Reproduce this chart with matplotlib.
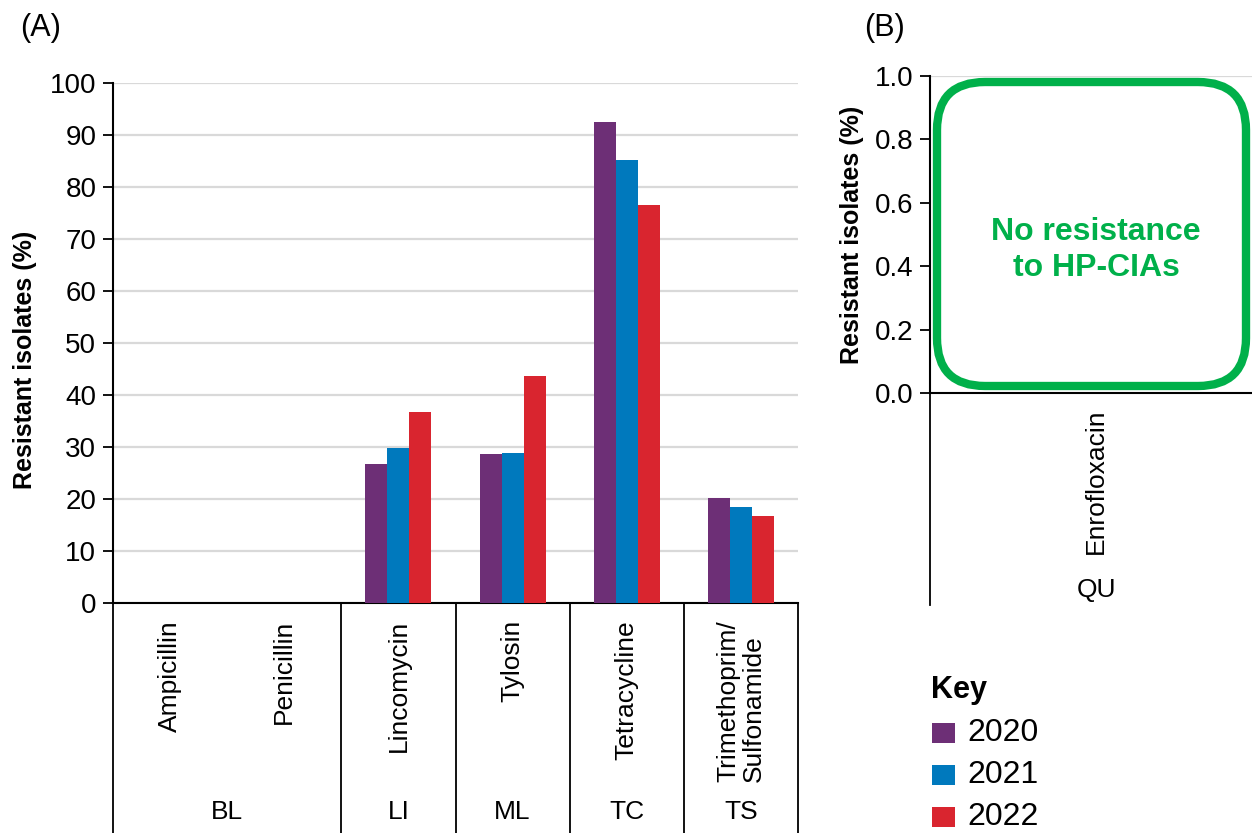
import matplotlib
matplotlib.use("Agg")
import matplotlib.pyplot as plt
import numpy as np
from matplotlib.patches import FancyBboxPatch, Rectangle
from matplotlib.transforms import blended_transform_factory

plt.rcParams['font.family'] = ['Liberation Sans', 'DejaVu Sans']

# ---------------- data ----------------
antibiotics = ["Ampicillin", "Penicillin", "Lincomycin", "Tylosin",
               "Tetracycline", "Trimethoprim/\nSulfonamide"]
classes = ["BL", "LI", "ML", "TC", "TS"]
class_spans = [(0, 1), (2, 2), (3, 3), (4, 4), (5, 5)]
years = ["2020", "2021", "2022"]
vals_2020 = [0, 0, 26.7, 28.6, 92.5, 20.1]
vals_2021 = [0, 0, 29.9, 28.8, 85.2, 18.5]
vals_2022 = [0, 0, 36.7, 43.7, 76.5, 16.7]
colors = ["#6d2f76", "#0079bd", "#d9252f"]
green = "#00b04a"

b_antibiotics = ["Enrofloxacin"]
b_classes = ["QU"]
b_ticks = [0.0, 0.2, 0.4, 0.6, 0.8, 1.0]

W, H = 1252, 833
fig = plt.figure(figsize=(W / 100, H / 100), dpi=100)

def fx(px):
    return px / W

def fy(py):
    return 1 - py / H

FS = 19
TFS = 20
YLFS = 18

# ---------------- Panel A ----------------
axA_l, axA_r, axA_t, axA_b = 113, 798, 83, 603
axA = fig.add_axes([fx(axA_l), fy(axA_b), fx(axA_r - axA_l), (axA_b - axA_t) / H])
x = np.arange(len(antibiotics))
bw = 0.193
for i, (vals, c) in enumerate(zip([vals_2020, vals_2021, vals_2022], colors)):
    axA.bar(x + (i - 1) * bw, vals, width=bw, color=c, linewidth=0, zorder=3)
axA.set_xlim(-0.5, len(antibiotics) - 0.5)
axA.set_ylim(0, 100)
axA.set_yticks(np.arange(0, 101, 10))
axA.yaxis.grid(True, color="#d9d9d9", linewidth=1.6, zorder=0)
axA.set_axisbelow(True)
axA.set_xticks([])
for s in ["top", "right"]:
    axA.spines[s].set_visible(False)
for s in ["left", "bottom"]:
    axA.spines[s].set_linewidth(1.5)
axA.tick_params(axis="y", length=7, width=1.3, labelsize=TFS, pad=5)
axA.set_ylabel("Resistant isolates (%)", fontsize=YLFS, fontweight="bold")
axA.yaxis.set_label_coords(-0.111, 0.467)

trA = blended_transform_factory(axA.transData, axA.transAxes)
hA = axA_b - axA_t
bottom_ax = -(H - axA_b) / hA
for sx in [-0.5, 1.5, 2.5, 3.5, 4.5, 5.5]:
    axA.plot([sx, sx], [0, bottom_ax], transform=trA, color="black",
             linewidth=1.3, clip_on=False)
lab_top = -(620 - axA_b) / hA
for xi, name in zip(x, antibiotics):
    axA.text(xi, lab_top, name, transform=trA, rotation=90, ha="center",
             va="top", multialignment="left", fontsize=FS, linespacing=1.1)
grp_y = -(812 - axA_b) / hA
for (a, b), name in zip(class_spans, classes):
    axA.text((a + b) / 2, grp_y, name, transform=trA, ha="center",
             va="center", fontsize=FS)

# ---------------- Panel B ----------------
axB_l, axB_r, axB_t, axB_b = 930, 1262, 76, 393
axB = fig.add_axes([fx(axB_l), fy(axB_b), fx(axB_r - axB_l), (axB_b - axB_t) / H])
axB.set_xlim(-0.5, 0.5)
axB.set_ylim(0, 1.0)
axB.set_yticks(b_ticks)
axB.set_yticklabels([f"{t:.1f}" for t in b_ticks])
axB.axhline(1.0, color="#d9d9d9", linewidth=1.6, zorder=0)
axB.set_xticks([])
for s in ["top", "right"]:
    axB.spines[s].set_visible(False)
for s in ["left", "bottom"]:
    axB.spines[s].set_linewidth(1.5)
axB.tick_params(axis="y", length=7, width=1.3, labelsize=TFS, pad=5)
axB.set_ylabel("Resistant isolates (%)", fontsize=YLFS, fontweight="bold", labelpad=8)

trB = blended_transform_factory(axB.transData, axB.transAxes)
hB = axB_b - axB_t
bottomB = -(605 - axB_b) / hB
axB.plot([-0.5, -0.5], [0, bottomB], transform=trB, color="black",
         linewidth=1.3, clip_on=False)
labB_top = -(408 - axB_b) / hB
axB.text(0, labB_top, b_antibiotics[0], transform=trB, rotation=90,
         ha="center", va="top", fontsize=FS)
axB.text(0, -(590 - axB_b) / hB, b_classes[0], transform=trB,
         ha="center", va="center", fontsize=FS)

# rounded green box (pixel coordinates)
bx0, bx1, by0, by1 = 937, 1246, 82, 386
rad = 48
box = FancyBboxPatch((bx0 + rad, H - by1 + rad), (bx1 - bx0) - 2 * rad,
                     (by1 - by0) - 2 * rad,
                     boxstyle=f"round,pad={rad},rounding_size={rad}",
                     transform=None, facecolor="white", edgecolor=green,
                     linewidth=6, zorder=5)
fig.add_artist(box)
fig.text(fx(1096), fy(250), "No resistance\nto HP-CIAs", color=green,
         fontsize=23, fontweight="bold", ha="center", va="center",
         linespacing=1.3, zorder=6)

# ---------------- panel labels ----------------
fig.text(fx(20), fy(28), "(A)", fontsize=22, ha="left", va="center")
fig.text(fx(864), fy(28), "(B)", fontsize=22, ha="left", va="center")

# ---------------- key ----------------
fig.text(fx(931), fy(690), "Key", fontsize=22, fontweight="bold",
         ha="left", va="center")
key_y = [733, 775, 817]
for yy, c, lab in zip(key_y, colors, years):
    fig.add_artist(Rectangle((fx(932), fy(yy + 10)), fx(23), 20 / H,
                             transform=fig.transFigure, facecolor=c,
                             edgecolor="none"))
    fig.text(fx(967), fy(yy), lab, fontsize=23, ha="left", va="center")

fig.savefig("out.png", dpi=100)
